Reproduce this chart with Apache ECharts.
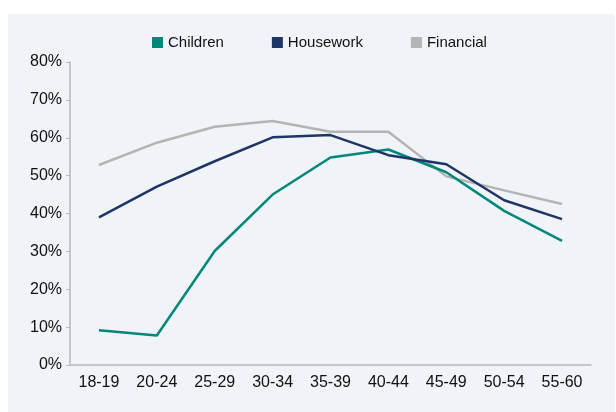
<!DOCTYPE html>
<html>
<head>
<meta charset="utf-8">
<script src="https://cdn.jsdelivr.net/npm/echarts@6/dist/echarts.min.js"></script>
<style>
html, body { margin: 0; padding: 0; background: #fff; }
#main { position: absolute; left: 8px; top: 14px; width: 607px; height: 398px; background: #f0f3f8; }
</style>
</head>
<body>
<div id="main"></div>
<script>
var ageGroups = ['18-19', '20-24', '25-29', '30-34', '35-39', '40-44', '45-49', '50-54', '55-60'];
var children = [9.2, 7.8, 30.1, 45.0, 54.8, 56.9, 50.9, 40.7, 32.8];
var housework = [39.0, 47.1, 53.8, 60.1, 60.7, 55.4, 53.0, 43.5, 38.5];
var financial = [52.8, 58.7, 62.9, 64.4, 61.6, 61.6, 49.8, 46.1, 42.5];
var yTicks = { min: 0, max: 80, interval: 10 };

var myChart = echarts.init(document.getElementById('main'));

var axisGray = '#b9b9b9';
var font = 'Liberation Sans';

option = {
	backgroundColor : '#f0f3f8',
	animation : false,
	legend : {
		left : 139,
		top : 16,
		icon : 'rect',
		itemWidth : 11,
		itemHeight : 11,
		itemGap : 48,
		textStyle : {
			fontFamily : font,
			fontSize : 15,
			color : '#111'
		},
		data : ['Children', 'Housework', 'Financial']
	},
	grid : {
		left : 62,
		right : 24,
		top : 48,
		bottom : 47
	},
	xAxis : {
		type : 'category',
		data : ageGroups,
		axisLine : {
			lineStyle : { color : axisGray, width : 1.5 }
		},
		axisTick : {
			alignWithLabel : true,
			length : 4,
			lineStyle : { color : axisGray }
		},
		axisLabel : {
			margin : 10,
			fontFamily : font,
			fontSize : 16,
			color : '#111'
		}
	},
	yAxis : {
		type : 'value',
		min : yTicks.min,
		max : yTicks.max,
		interval : yTicks.interval,
		splitLine : { show : false },
		axisLine : {
			show : true,
			lineStyle : { color : axisGray, width : 1.5 }
		},
		axisTick : {
			show : true,
			length : 4,
			lineStyle : { color : axisGray }
		},
		axisLabel : {
			margin : 8,
			fontFamily : font,
			fontSize : 16,
			color : '#111',
			formatter : '{value}%'
		}
	},
	series : [
		{
			name : 'Children',
			type : 'line',
			data : children,
			showSymbol : false,
			symbol : 'none',
			itemStyle : { color : '#00877b' },
			lineStyle : { color : '#00877b', width : 2.5 }
		},
		{
			name : 'Housework',
			type : 'line',
			data : housework,
			showSymbol : false,
			symbol : 'none',
			itemStyle : { color : '#1f3566' },
			lineStyle : { color : '#1f3566', width : 2.5 }
		},
		{
			name : 'Financial',
			type : 'line',
			data : financial,
			showSymbol : false,
			symbol : 'none',
			z : 1,
			itemStyle : { color : '#b4b4b4' },
			lineStyle : { color : '#b4b4b4', width : 2.5 }
		}
	]
};
myChart.setOption(option);
</script>
</body>
</html>
